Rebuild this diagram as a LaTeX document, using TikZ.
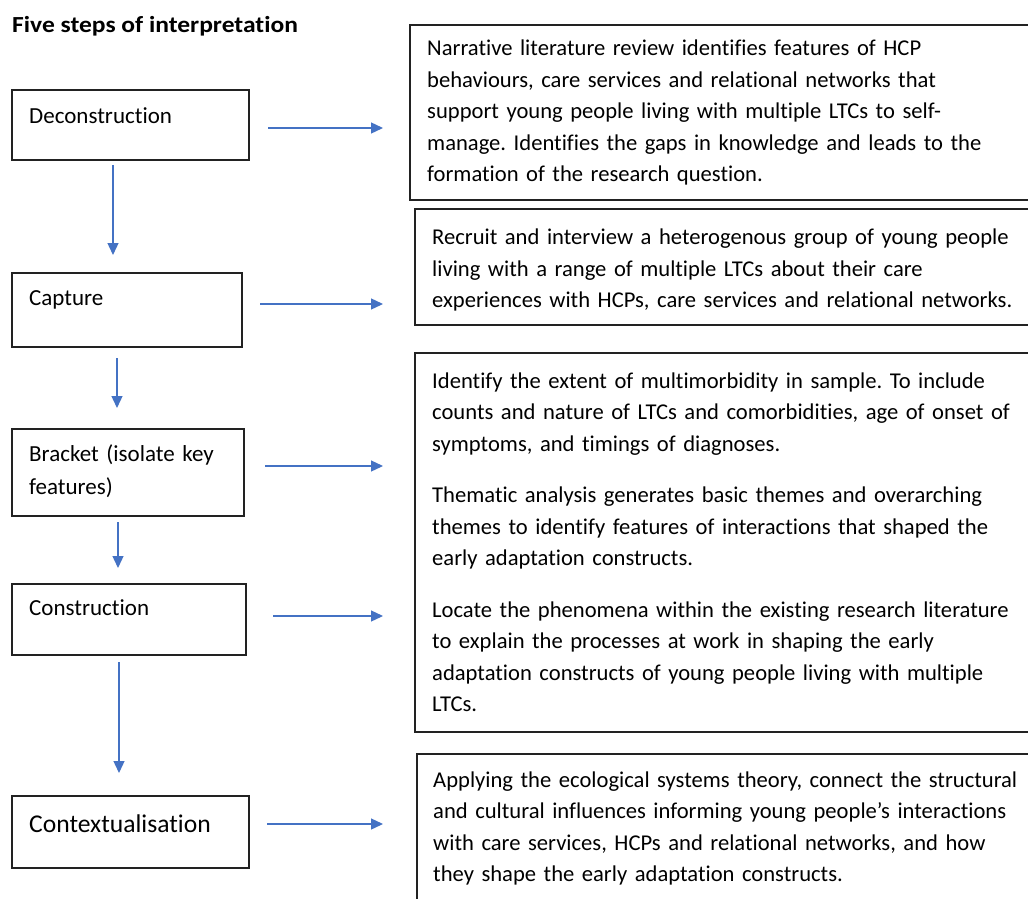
\documentclass[tikz,border=0pt]{standalone}
\usepackage{fontspec}
\usepackage{graphicx}
\setmainfont{Carlito}[Ligatures=NoCommon]
\usetikzlibrary{arrows.meta,positioning}

\definecolor{flowblue}{HTML}{4472C4}
\definecolor{boxline}{HTML}{222222}

\tikzset{
  stepbox/.style={draw=boxline, line width=1.2pt, rectangle, inner sep=0pt, outer sep=0pt, anchor=north west},
  steptext/.style={anchor=base west, inner sep=0pt, align=left, text width=220pt, font=\fontsize{23}{33}\selectfont},
  desctext/.style={anchor=base west, inner sep=0pt, align=left, text width=640pt, font=\fontsize{22.6}{31.5}\selectfont},
  flow/.style={draw=flowblue, line width=1.3pt, -{Triangle[length=12pt,width=11pt]}},
}

\begin{document}
\frenchspacing
\begin{tikzpicture}[x=1pt,y=-1pt,line cap=butt,line join=miter]
  \useasboundingbox (0,0) rectangle (1028,899);
  \clip (0,0) rectangle (1028,899);

  \node[anchor=base west, inner sep=0pt, font=\fontsize{23}{25}\selectfont\bfseries] (title) at (12,33) {\scalebox{1.11}[1]{Five steps of interpretation}};

  % left column: the five steps
  \node[stepbox, minimum width=237pt, minimum height=70pt] (decon) at (12,90) {};
  \node[stepbox, minimum width=230pt, minimum height=74pt] (capture) at (12,273) {};
  \node[stepbox, minimum width=232pt, minimum height=87pt] (bracket) at (12,429) {};
  \node[stepbox, minimum width=234pt, minimum height=71pt] (construct) at (12,584) {};
  \node[stepbox, minimum width=237pt, minimum height=72pt] (context) at (12,796) {};

  \node[steptext] (decontxt) at ([shift={(17,33)}]decon.north west) {Deconstruction};
  \node[steptext] (capturetxt) at ([shift={(17,32)}]capture.north west) {Capture};
  \node[steptext] (brackettxt) at ([shift={(17,32.7)}]bracket.north west) {Bracket (isolate key\\features)};
  \node[steptext] (constructtxt) at ([shift={(17,31)}]construct.north west) {Construction};
  \node[steptext, font=\fontsize{25.6}{30}\selectfont] (contexttxt) at ([shift={(17,36)}]context.north west) {Contextualisation};

  % right column: what each step does
  \node[stepbox, minimum width=640pt, minimum height=175pt] (narr) at (410,25) {};
  \node[stepbox, minimum width=640pt, minimum height=116pt] (recruit) at (415,209) {};
  \node[stepbox, minimum width=640pt, minimum height=379pt] (analyse) at (415,353) {};
  \node[stepbox, minimum width=640pt, minimum height=200pt] (ecology) at (417,754) {};

  \node[desctext] (narrtxt) at ([shift={(17,31)}]narr.north west)
    {Narrative literature review identifies features of HCP\\
     behaviours, care services and relational networks that\\
     support young people living with multiple LTCs to self-\\
     manage. Identifies the gaps in knowledge and leads to the\\
     formation of the research question.};
  \node[desctext] (recruittxt) at ([shift={(17,35.5)}]recruit.north west)
    {Recruit and interview a heterogenous group of young people\\
     living with a range of multiple LTCs about their care\\
     experiences with HCPs, care services and relational networks.};
  \node[desctext] (analysetxt) at ([shift={(17,35)}]analyse.north west)
    {Identify the extent of multimorbidity in sample. To include\\
     counts and nature of LTCs and comorbidities, age of onset of\\
     symptoms, and timings of diagnoses.\\[20pt]
     Thematic analysis generates basic themes and overarching\\
     themes to identify features of interactions that shaped the\\
     early adaptation constructs.\\[20pt]
     Locate the phenomena within the existing research literature\\
     to explain the processes at work in shaping the early\\
     adaptation constructs of young people living with multiple\\
     LTCs.};
  \node[desctext] (ecologytxt) at ([shift={(16,33)}]ecology.north west)
    {Applying the ecological systems theory, connect the structural\\
     and cultural influences informing young people’s interactions\\
     with care services, HCPs and relational networks, and how\\
     they shape the early adaptation constructs.};

  % step to step
  \draw[flow, shorten <=5pt, shorten >=18pt] ([xshift=-17.5pt]decon.south) -- ([xshift=-17.5pt]decon.south |- capture.north);
  \draw[flow, shorten <=11pt, shorten >=21pt] ([xshift=-10pt]capture.south) -- ([xshift=-10pt]capture.south |- bracket.north);
  \draw[flow, shorten <=6pt, shorten >=16pt] ([xshift=-10pt]bracket.south) -- ([xshift=-10pt]bracket.south |- construct.north);
  \draw[flow, shorten <=7pt, shorten >=23pt] ([xshift=-10pt]construct.south) -- ([xshift=-10pt]construct.south |- context.north);

  % step to description
  \draw[flow, shorten <=19pt, shorten >=27pt] ([yshift=-3pt]decon.east) -- ([yshift=-3pt]decon.east -| narr.west);
  \draw[flow, shorten <=18pt, shorten >=32pt] ([yshift=6pt]capture.east) -- ([yshift=6pt]capture.east -| recruit.west);
  \draw[flow, shorten <=21pt, shorten >=32pt] ([yshift=6.5pt]bracket.east) -- ([yshift=6.5pt]bracket.east -| analyse.west);
  \draw[flow, shorten <=27pt, shorten >=32pt] ([yshift=3.5pt]construct.east) -- ([yshift=3.5pt]construct.east -| analyse.west);
  \draw[flow, shorten <=18pt, shorten >=34pt] ([yshift=8pt]context.east) -- ([yshift=8pt]context.east -| ecology.west);
\end{tikzpicture}
\end{document}
